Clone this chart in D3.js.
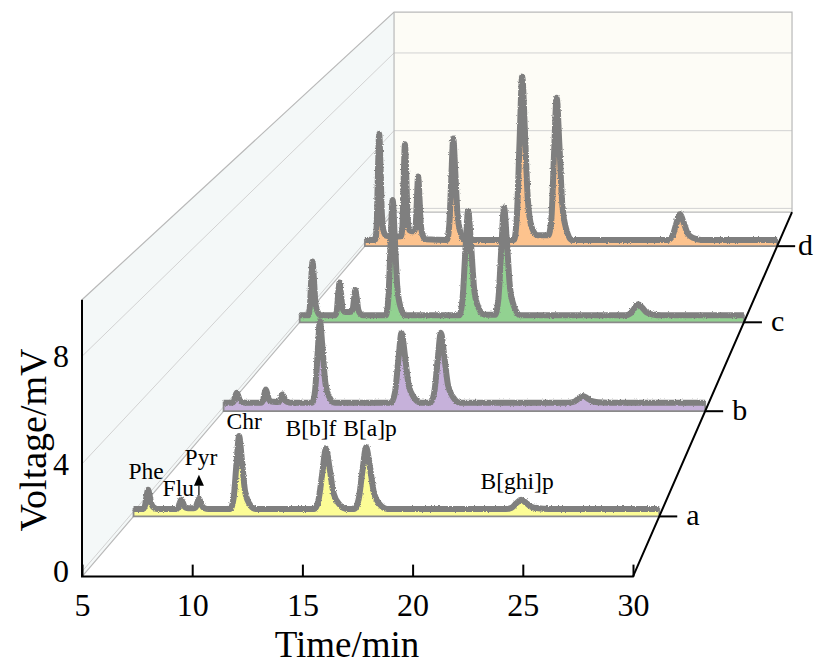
<!DOCTYPE html>
<html>
<head>
<meta charset="utf-8">
<script src="https://cdn.jsdelivr.net/npm/d3@7"></script>
<style>
  body { margin: 0; background: #fff; }
  svg { display: block; }
  text { font-family: "Liberation Serif", "Times New Roman", serif; fill: #000; }
</style>
</head>
<body>
<svg id="chart" width="815" height="665"></svg>
<script>
// ---- data: chromatograms, [time (min), signal (mV)] ----
const seriesNames = ["a", "b", "c", "d"];
const seriesColors = ["#fcfc96", "#c6b1da", "#92d291", "#fdc38e"];

const seriesA = [
  [5.00,0.10],[5.45,0.10],[5.54,0.21],[5.61,0.55],[5.69,0.85],[5.77,0.61],[5.85,0.29],[5.96,0.16],[6.14,0.10],
  [7.03,0.10],[7.12,0.15],[7.19,0.32],[7.27,0.46],[7.35,0.34],[7.43,0.19],[7.54,0.14],[7.68,0.13],
  [7.87,0.13],[7.96,0.17],[8.03,0.34],[8.11,0.50],[8.19,0.37],[8.27,0.20],[8.38,0.13],[8.56,0.10],
  [9.60,0.10],[9.76,0.53],[9.89,1.80],[10.02,2.94],[10.15,2.03],[10.30,0.81],[10.49,0.33],[10.80,0.10],
  [13.60,0.10],[13.80,0.46],[13.98,1.52],[14.15,2.47],[14.32,1.71],[14.52,0.69],[14.78,0.29],[15.15,0.10],
  [15.50,0.10],[15.70,0.46],[15.88,1.55],[16.06,2.51],[16.24,1.74],[16.44,0.70],[16.70,0.29],[17.08,0.10],
  [22.71,0.10],[22.98,0.15],[23.20,0.32],[23.43,0.46],[23.66,0.34],[23.91,0.19],[24.24,0.13],[24.73,0.10],
  [30.00,0.10]
];

const seriesB = [
  [5.00,0.17],[5.44,0.17],[5.53,0.23],[5.60,0.43],[5.68,0.60],[5.76,0.46],[5.84,0.28],[5.95,0.20],[6.13,0.17],
  [6.95,0.17],[7.04,0.25],[7.11,0.51],[7.19,0.73],[7.27,0.55],[7.35,0.31],[7.46,0.23],[7.62,0.21],
  [7.81,0.20],[7.90,0.23],[7.97,0.38],[8.05,0.52],[8.13,0.41],[8.21,0.26],[8.32,0.20],[8.50,0.17],
  [9.60,0.17],[9.75,0.69],[9.88,2.25],[10.00,3.64],[10.13,2.53],[10.28,1.04],[10.47,0.45],[10.78,0.17],
  [13.70,0.17],[13.90,0.62],[14.07,1.96],[14.24,3.15],[14.41,2.20],[14.61,0.92],[14.87,0.41],[15.24,0.17],
  [15.74,0.17],[15.94,0.62],[16.11,1.96],[16.28,3.15],[16.45,2.20],[16.65,0.92],[16.91,0.41],[17.28,0.17],
  [22.92,0.17],[23.19,0.21],[23.41,0.34],[23.64,0.46],[23.87,0.37],[24.12,0.24],[24.45,0.19],[24.94,0.17],
  [30.00,0.17]
];

const seriesC = [
  [5.00,0.13],[5.48,0.13],[5.57,0.50],[5.64,1.62],[5.72,2.61],[5.80,1.82],[5.88,0.75],[5.99,0.33],[6.17,0.13],
  [7.00,0.13],[7.09,0.36],[7.16,1.04],[7.24,1.64],[7.32,1.16],[7.40,0.51],[7.51,0.30],[7.68,0.29],
  [7.89,0.30],[7.98,0.40],[8.05,0.83],[8.13,1.30],[8.21,0.93],[8.29,0.42],[8.40,0.22],[8.58,0.13],
  [9.85,0.13],[9.99,0.93],[10.11,3.32],[10.23,5.45],[10.35,3.75],[10.49,1.46],[10.66,0.56],[10.93,0.13],
  [13.98,0.13],[14.16,0.85],[14.32,3.02],[14.48,4.94],[14.64,3.40],[14.82,1.33],[15.05,0.51],[15.40,0.16],
  [16.00,0.16],[16.18,0.88],[16.34,3.11],[16.50,5.10],[16.66,3.51],[16.84,1.37],[17.07,0.53],[17.42,0.13],
  [23.33,0.13],[23.60,0.21],[23.82,0.44],[24.05,0.64],[24.28,0.48],[24.53,0.26],[24.86,0.17],[25.35,0.13],
  [30.00,0.13]
];

const seriesD = [
  [5.00,0.12],[5.63,0.12],[5.72,0.91],[5.79,3.29],[5.87,5.40],[5.95,3.71],[6.03,1.44],[6.14,0.54],[6.32,0.32],
  [6.80,0.28],[7.19,0.30],[7.28,0.83],[7.35,2.97],[7.43,4.87],[7.51,3.35],[7.59,1.31],[7.70,0.60],[7.85,0.55],
  [7.99,0.55],[8.08,0.80],[8.15,2.01],[8.23,3.27],[8.31,2.26],[8.39,0.91],[8.50,0.37],[8.68,0.15],
  [9.98,0.12],[10.12,0.88],[10.24,3.14],[10.36,5.16],[10.48,3.55],[10.62,1.38],[10.79,0.52],[11.06,0.12],
  [14.04,0.12],[14.22,1.34],[14.38,4.99],[14.54,8.24],[14.70,5.64],[14.88,2.15],[15.11,0.77],[15.46,0.35],
  [16.13,0.35],[16.31,1.18],[16.47,4.36],[16.63,7.19],[16.79,4.93],[16.97,1.89],[17.20,0.69],[17.55,0.12],
  [23.38,0.12],[23.65,0.31],[23.87,0.89],[24.10,1.40],[24.33,0.99],[24.58,0.44],[24.91,0.22],[25.40,0.12],
  [30.00,0.12]
];

const seriesData = [seriesA, seriesB, seriesC, seriesD];

// peak names annotated on the front trace (a), with the retention time they mark
const peakNames = ["Phe", "Flu", "Pyr", "Chr", "B[b]f", "B[a]p", "B[ghi]p"];
const peakTimes = [5.69, 7.27, 8.11, 10.02, 14.15, 16.06, 23.43];
const peakHeights = [0.85, 0.46, 0.50, 2.94, 2.47, 2.51, 0.46];

const xTicks = [5, 10, 15, 20, 25, 30];
const yTicks = [0, 4, 8];

// ---- scales & projection ----
const svg = d3.select("#chart");
const x = d3.scaleLinear().domain([5, 30]).range([82, 633]);
const y = d3.scaleLinear().domain([0, 10]).range([571.5, 302.5]);
const z = d3.scaleLinear().domain([-0.5, 3.5]).range([0, 1]);   // series index -> depth
const vFloor = -0.19, vTop = 10.1;
const VP = [1205.6, -736];        // vanishing point
const depthGain = 0.3845;

function proj(t, v, d) {
  const k = 1 / (1 + depthGain * d);
  return [VP[0] + (x(t) - VP[0]) * k, VP[1] + (y(v) - VP[1]) * k];
}
const P = pts => pts.map(p => p.join(",")).join(" ");

// grainy texture for the thick traces
const defs = svg.append("defs");
const f = defs.append("filter").attr("id", "rough").attr("x", "-2%").attr("y", "-10%")
  .attr("width", "104%").attr("height", "120%");
f.append("feTurbulence").attr("type", "fractalNoise").attr("baseFrequency", "1.4")
  .attr("numOctaves", 1).attr("seed", 4).attr("result", "n");
f.append("feDisplacementMap").attr("in", "SourceGraphic").attr("in2", "n")
  .attr("scale", 3).attr("xChannelSelector", "R").attr("yChannelSelector", "G");

// ---- walls ----
const walls = svg.append("g");
walls.append("polygon")   // left wall
  .attr("points", P([proj(5, vFloor, 0), proj(5, vTop, 0), proj(5, vTop, 1), proj(5, vFloor, 1)]))
  .attr("fill", "#f4f8f8");
walls.append("polygon")   // back wall
  .attr("points", P([proj(5, vFloor, 1), proj(5, vTop, 1), proj(30, vTop, 1), proj(30, vFloor, 1)]))
  .attr("fill", "#fdfcf6");

const grid = svg.append("g").attr("fill", "none").attr("stroke", "#d2d2d2").attr("stroke-width", 1);
yTicks.forEach(v => {
  grid.append("polyline").attr("points", P([proj(5, v, 0), proj(5, v, 1), proj(30, v, 1)]));
});
const edges = svg.append("g").attr("fill", "none").attr("stroke", "#b9b9b9").attr("stroke-width", 1.2);
edges.append("polyline").attr("points", P([proj(5, vTop, 0), proj(5, vTop, 1), proj(30, vTop, 1), proj(30, vFloor, 1)]));
edges.append("polyline").attr("points", P([proj(5, vFloor, 0), proj(5, vFloor, 1), proj(30, vFloor, 1)]));
edges.append("line").attr("x1", proj(5, vFloor, 1)[0]).attr("y1", proj(5, vFloor, 1)[1])
  .attr("x2", proj(5, vTop, 1)[0]).attr("y2", proj(5, vTop, 1)[1]);

// ---- traces, back to front ----
const traces = svg.append("g");
[3, 2, 1, 0].forEach(i => {
  const d = z(i);
  const area = d3.area()
    .x(p => proj(p[0], p[1], d)[0])
    .y0(p => proj(p[0], vFloor, d)[1])
    .y1(p => proj(p[0], p[1], d)[1])
    .curve(d3.curveMonotoneX);
  const line = d3.line()
    .x(p => proj(p[0], p[1], d)[0])
    .y(p => proj(p[0], p[1], d)[1])
    .curve(d3.curveMonotoneX);
  const g = traces.append("g");
  g.append("path").attr("d", area(seriesData[i]))
    .attr("fill", seriesColors[i]).attr("stroke", "#8a8a8a").attr("stroke-width", 1.8);
  g.append("path").attr("d", line(seriesData[i]))
    .attr("fill", "none").attr("stroke", "#7f7f7f").attr("stroke-width", 6)
    .attr("stroke-linejoin", "round").attr("filter", "url(#rough)");
});

// ---- axes ----
const axes = svg.append("g");
const xAxis = d3.axisBottom(x).tickValues(xTicks).tickFormat(d3.format("d"))
  .tickSizeInner(-12).tickSizeOuter(0).tickPadding(17);
const gx = axes.append("g").attr("transform", `translate(0,${proj(5, vFloor, 0)[1]})`).call(xAxis);
gx.select(".domain").remove();
gx.selectAll(".tick line").attr("stroke", "#000").attr("stroke-width", 2);
gx.selectAll("text").attr("font-size", 32);

const yAxis = d3.axisLeft(y).tickValues(yTicks).tickSize(0).tickPadding(13);
const gy = axes.append("g").attr("transform", `translate(${x(5)},0)`).call(yAxis);
gy.select(".domain").remove();
gy.selectAll("text").attr("font-size", 32);

const frame = axes.append("g").attr("fill", "none").attr("stroke", "#000").attr("stroke-width", 2);
frame.append("polyline").attr("points", P([proj(5, vTop, 0), proj(5, vFloor, 0), proj(30, vFloor, 0), proj(30, vFloor, 1)]));

// series ticks and letters on the depth axis
seriesNames.forEach((name, i) => {
  const [px, py] = proj(30, vFloor, z(i));
  axes.append("line").attr("x1", px).attr("y1", py).attr("x2", px + 18).attr("y2", py)
    .attr("stroke", "#000").attr("stroke-width", 2);
  axes.append("text").attr("x", Math.min(px + 27, 798)).attr("y", py).attr("dy", "0.3em")
    .attr("font-size", 30).text(name);
});

// axis titles
svg.append("text").attr("x", 347).attr("y", 657).attr("text-anchor", "middle")
  .attr("font-size", 37).text("Time/min");
svg.append("text").attr("transform", "translate(46,440) rotate(-90)").attr("text-anchor", "middle")
  .attr("font-size", 38).text("Voltage/mV");

// ---- peak annotations on trace a ----
const labelOffsets = [[-2, -11], [-3, -4], [2, -34], [5, -7], [-15, -12], [4, -11], [-4, -11]];
const ann = svg.append("g");
peakNames.forEach((name, j) => {
  const [px, py] = proj(peakTimes[j], peakHeights[j], z(0));
  ann.append("text").attr("x", px + labelOffsets[j][0]).attr("y", py + labelOffsets[j][1])
    .attr("text-anchor", "middle").attr("font-size", 23.5).text(name);
});
// arrow pointing at Pyr
{
  const [px, py] = proj(peakTimes[2], peakHeights[2], z(0));
  ann.append("path").attr("d", `M${px},${py - 24}L${px - 5},${py - 13}L${px + 5},${py - 13}Z`).attr("fill", "#000");
  ann.append("line").attr("x1", px).attr("y1", py - 13).attr("x2", px).attr("y2", py - 3)
    .attr("stroke", "#000").attr("stroke-width", 1.2);
}
</script>
</body>
</html>
